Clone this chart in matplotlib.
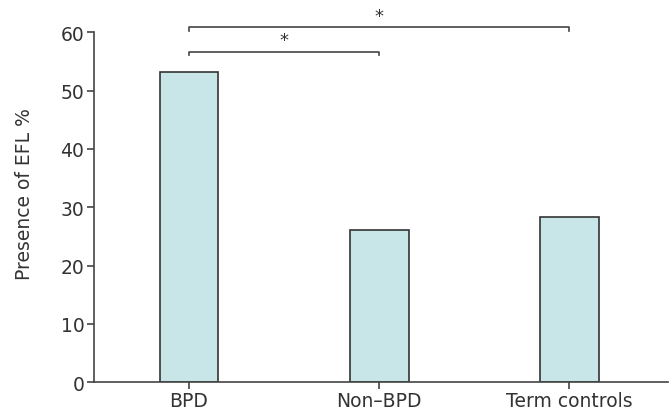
import matplotlib
matplotlib.use("Agg")
import matplotlib.pyplot as plt

categories = ["BPD", "Non\u2013BPD", "Term controls"]
values = [53.2, 26.1, 28.3]
yticks = [0, 10, 20, 30, 40, 50, 60]
# significance brackets: (start index, end index, bracket level, label)
brackets = [(0, 2, 60.9, "*"), (0, 1, 56.7, "*")]

plt.rcParams['font.family'] = ['DejaVu Sans']
fig = plt.figure(figsize=(6.72, 4.14), dpi=100)
ax = fig.add_axes([94/672, (414-383.3)/414, (668-94)/672, (383.3-33.3)/414])

x = list(range(len(categories)))
ax.bar(x, values, width=0.31, color="#c8e6e8", edgecolor="#333333", linewidth=1.2, zorder=2)

ax.set_xlim(-0.5, 2.52)
ax.set_ylim(0, 60)
ax.set_yticks(yticks)
ax.set_xticks(x)
ax.set_xticklabels(categories)
ax.set_ylabel("Presence of EFL %", fontsize=13.5, color="#333333")
ax.yaxis.set_label_coords(-0.104, 0.54)

for s in ["top", "right"]:
    ax.spines[s].set_visible(False)
for s in ["left", "bottom"]:
    ax.spines[s].set_color("#444444")
    ax.spines[s].set_linewidth(1.2)
ax.tick_params(axis="both", colors="#444444", labelcolor="#333333", labelsize=13.5, width=1.2, length=5)
ax.tick_params(axis="y", pad=2)
ax.tick_params(axis="x", pad=1)

for i, j, lvl, lab in brackets:
    ax.plot([x[i], x[i], x[j], x[j]], [lvl - 0.6, lvl, lvl, lvl - 0.6],
            color="#444444", lw=1.2, clip_on=False)
    ax.text((x[i] + x[j]) / 2, lvl + 0.4, lab, ha="center", va="bottom",
            fontsize=13, color="#333333", clip_on=False)

fig.savefig("out.png", dpi=100)
